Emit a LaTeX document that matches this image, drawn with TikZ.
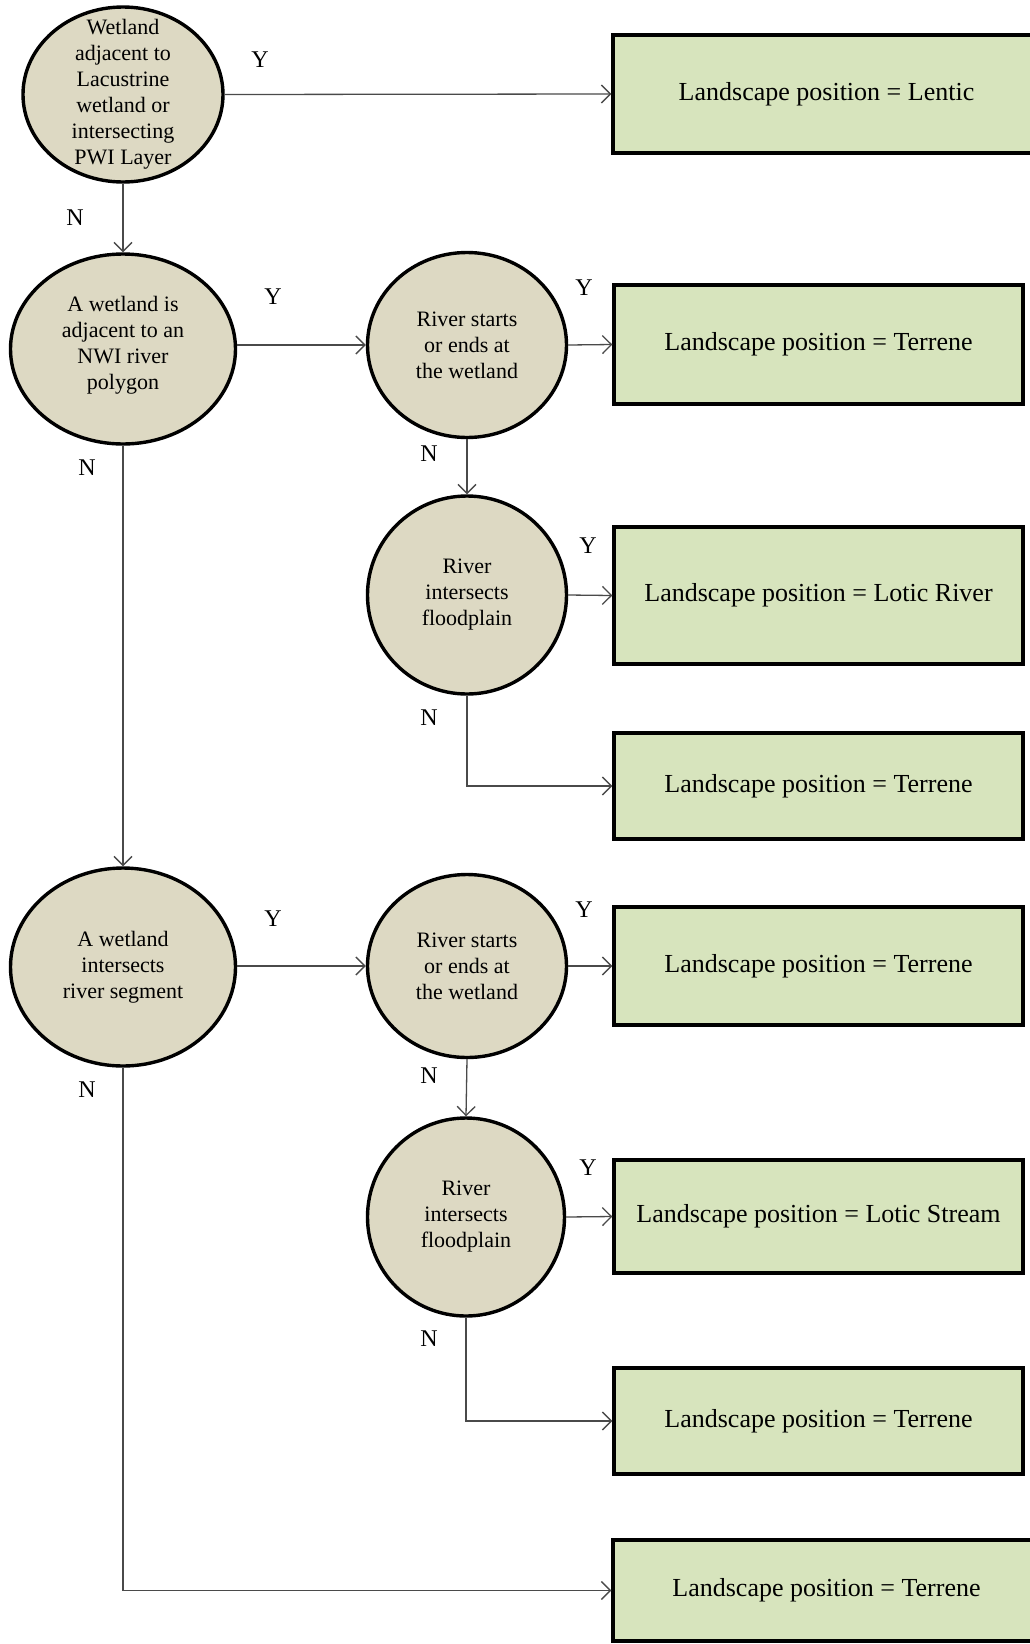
\documentclass[tikz,border=0pt]{standalone}
\usepackage{fontspec}
\setmainfont{Liberation Serif}
\usetikzlibrary{shapes.geometric,arrows.meta}
\definecolor{decfill}{HTML}{DDD9C3}
\definecolor{resfill}{HTML}{D7E4BD}
\definecolor{linkgray}{HTML}{4A4A4A}
\begin{document}
\begin{tikzpicture}[x=1pt,y=-1pt,
  decision/.style={ellipse, draw=black, line width=3.4pt, fill=decfill, inner sep=0pt},
  qtext/.style={align=center, font=\fontsize{22}{26}\selectfont, inner sep=0pt},
  result/.style={rectangle, draw=black, line width=3.4pt, fill=resfill, inner sep=0pt,
                 font=\fontsize{26}{30}\selectfont},
  link/.style={draw=linkgray, line width=1.3pt, -{Straight Barb[length=9pt,width=18pt]}},
  yn/.style={font=\fontsize{24}{28}\selectfont, inner sep=0pt}
]
\useasboundingbox (0,0) rectangle (1030,1644);
\clip (0,0) rectangle (1030,1644);

% decision ellipses
\node[decision, minimum width=200pt, minimum height=175pt] (q1) at (123,94.5) {};
\node[decision, minimum width=225pt, minimum height=190pt] (q2) at (123,349) {};
\node[decision, minimum width=199pt, minimum height=185pt] (q3) at (467,345) {};
\node[decision, minimum width=199pt, minimum height=198pt] (q4) at (467,595) {};
\node[decision, minimum width=225pt, minimum height=198pt] (q5) at (123,967) {};
\node[decision, minimum width=199pt, minimum height=183pt] (q6) at (467,966) {};
\node[decision, minimum width=197pt, minimum height=198pt] (q7) at (466,1217) {};

% question texts
\node[qtext] (q1t) at (q1.center) {Wetland\\adjacent to\\Lacustrine\\wetland or\\intersecting\\PWI Layer};
\node[qtext] (q2t) at (123,345) {A wetland is\\adjacent to an\\NWI river\\polygon};
\node[qtext] (q3t) at (q3.center) {River starts\\or ends at\\the wetland};
\node[qtext] (q4t) at (q4.center) {River\\intersects\\floodplain};
\node[qtext] (q5t) at (q5.center) {A wetland\\intersects\\river segment};
\node[qtext] (q6t) at (q6.center) {River starts\\or ends at\\the wetland};
\node[qtext] (q7t) at (q7.center) {River\\intersects\\floodplain};

% outcome boxes
\node[result, minimum width=427pt, minimum height=118pt] (b1) at (826.5,94) {Landscape position = Lentic};
\node[result, minimum width=409pt, minimum height=119pt] (b2) at (818.5,344.5) {Landscape position = Terrene};
\node[result, minimum width=409pt, minimum height=137pt] (b3) at (818.5,595.5) {Landscape position = Lotic River};
\node[result, minimum width=409pt, minimum height=106pt] (b4) at (818.5,786) {Landscape position = Terrene};
\node[result, minimum width=409pt, minimum height=118pt] (b5) at (818.5,966) {Landscape position = Terrene};
\node[result, minimum width=409pt, minimum height=113pt] (b6) at (818.5,1216.5) {Landscape position = Lotic Stream};
\node[result, minimum width=409pt, minimum height=106pt] (b7) at (818.5,1421) {Landscape position = Terrene};
\node[result, minimum width=427pt, minimum height=101pt] (b8) at (826.5,1590.5) {Landscape position = Terrene};

% connectors
\draw[link] (q1.east) -- (b1.west);
\draw[link] (q1.south) -- (q2.north);
\draw[link] (q3.west -| q2.east) -- (q3.west);
\draw[link] (q3.east) -- (b2.west);
\draw[link] (q3.south) -- (q4.north);
\draw[link] (q4.east) -- (b3.west);
\draw[link] (q4.south) |- (b4.west);
\draw[link] (q2.south) -- (q5.north);
\draw[link] (q6.west -| q5.east) -- (q6.west);
\draw[link] (q6.east) -- (b5.west);
\draw[link] (q6.south) -- (q7.north);
\draw[link] (q7.east) -- (b6.west);
\draw[link] (q7.south) |- (b7.west);
\draw[link] (q5.south) |- (b8.west);

% branch labels
\node[yn] (y1) at (260,60) {Y};
\node[yn] (n1) at (75,218) {N};
\node[yn] (y2) at (273,297) {Y};
\node[yn] (y3) at (584,288) {Y};
\node[yn] (n2) at (87,468) {N};
\node[yn] (n3) at (429,454) {N};
\node[yn] (y4) at (588,546) {Y};
\node[yn] (n4) at (429,718) {N};
\node[yn] (y5) at (273,919) {Y};
\node[yn] (y6) at (584,910) {Y};
\node[yn] (n5) at (87,1090) {N};
\node[yn] (n6) at (429,1076) {N};
\node[yn] (y7) at (588,1168) {Y};
\node[yn] (n7) at (429,1339) {N};
\end{tikzpicture}
\end{document}
